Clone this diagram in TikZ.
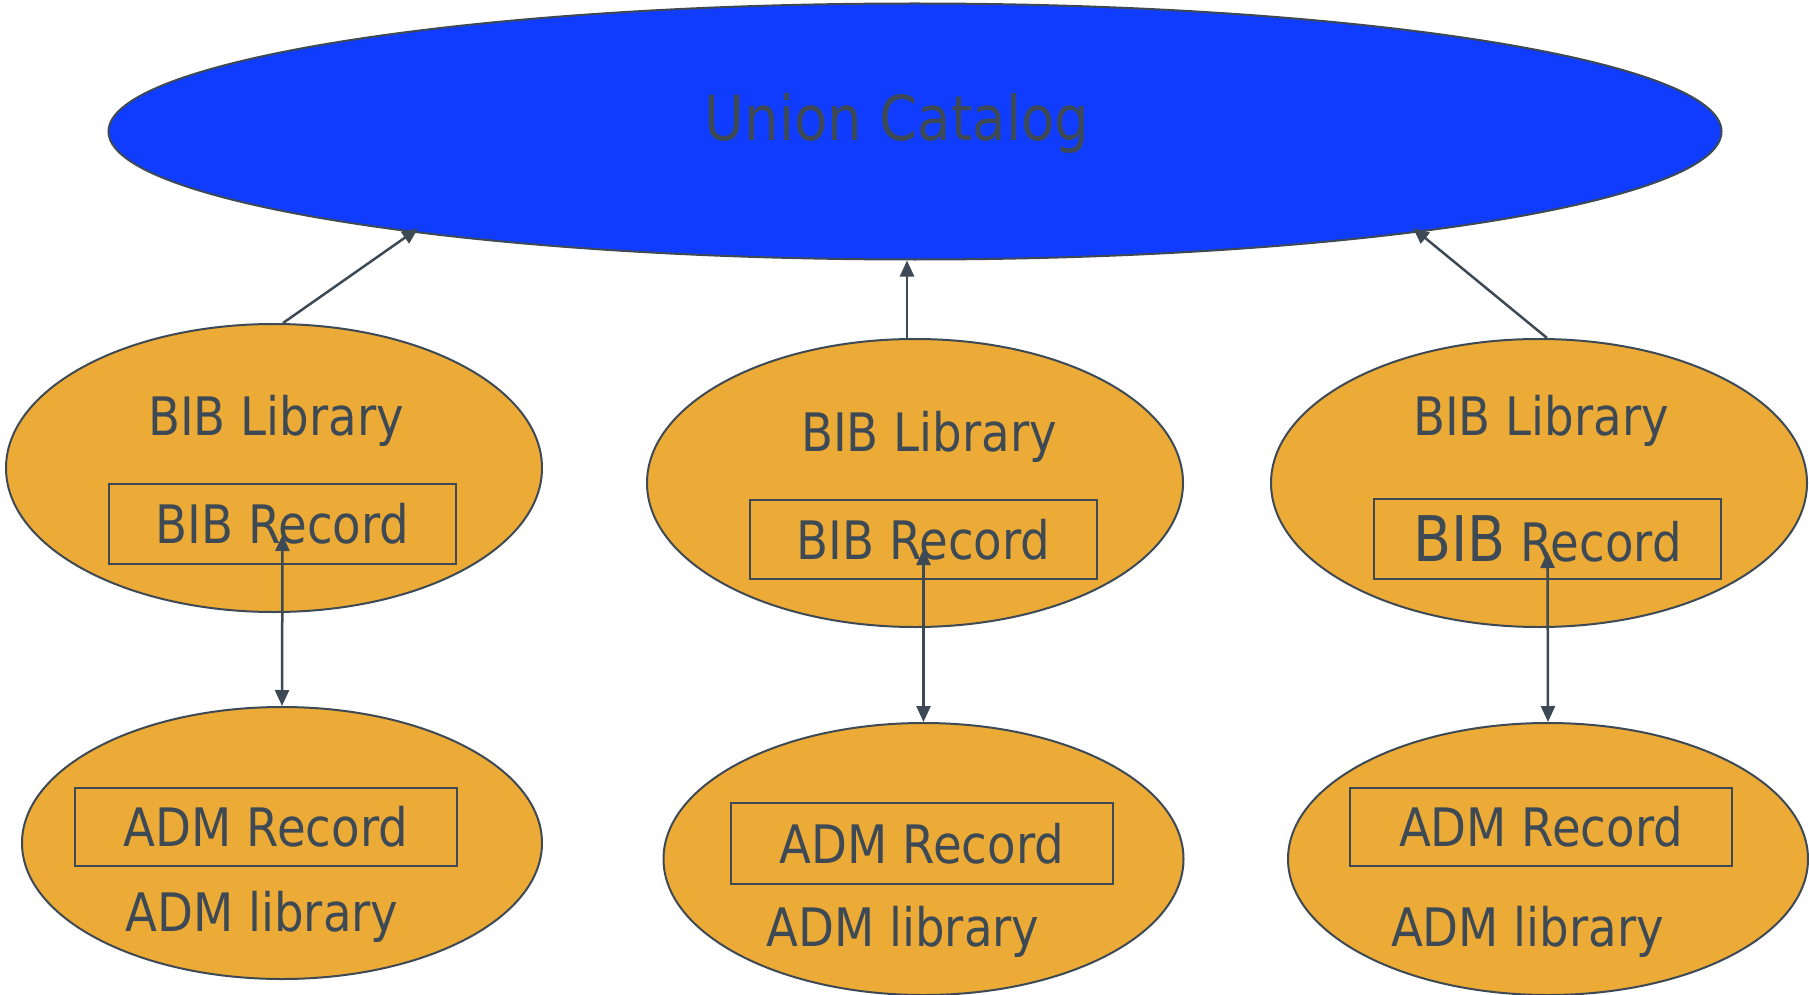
\documentclass[tikz,border=0pt]{standalone}
\usepackage{fontspec}
\setmainfont{DejaVu Sans}[FakeStretch=0.88]
\usetikzlibrary{shapes.geometric,arrows.meta,calc}
\definecolor{unionblue}{RGB}{16,60,255}
\definecolor{libfill}{RGB}{236,171,54}
\definecolor{ink}{RGB}{61,74,85}
\begin{document}
\begin{tikzpicture}[x=1pt,y=-1pt,
  unionell/.style={ellipse,draw=ink,line width=2pt,fill=unionblue,inner sep=0pt,minimum width=1613pt,minimum height=256pt},
  bibell/.style={ellipse,draw=ink,line width=2pt,fill=libfill,inner sep=0pt,minimum width=536pt,minimum height=288pt},
  admell/.style={ellipse,draw=ink,line width=2pt,fill=libfill,inner sep=0pt,minimum width=520pt,minimum height=272pt},
  recbox/.style={rectangle,draw=ink,line width=2pt,inner sep=0pt,text=ink,font=\fontsize{53}{60}\selectfont,minimum width=347pt,minimum height=80pt},
  admbox/.style={rectangle,draw=ink,line width=2pt,inner sep=0pt,text=ink,font=\fontsize{53}{60}\selectfont,minimum width=382pt,minimum height=78pt},
  txt/.style={inner sep=0pt,anchor=base,text=ink,font=\fontsize{53}{60}\selectfont},
  uparrow/.style={draw=ink,line width=2.5pt,-{Triangle[length=16pt,width=14pt]}},
  botharrow/.style={draw=ink,line width=2.5pt,{Triangle[length=16pt,width=14pt]}-{Triangle[length=16pt,width=14pt]}}
]
\useasboundingbox (0,0) rectangle (1809,995);

% union catalog
\node[unionell] (union) at (915,131.5) {};
\node[txt,font=\fontsize{62}{70}\selectfont] (uctext) at (897,141) {Union Catalog};

% BIB libraries
\node[bibell] (bibL) at (274,468) {};
\node[bibell] (bibM) at (915,483) {};
\node[bibell] (bibR) at (1539,483) {};
\node[txt] (libL) at (276,435) {BIB Library};
\node[txt] (libM) at (929,451) {BIB Library};
\node[txt] (libR) at (1541,435) {BIB Library};
\node[recbox] (recL) at (282.5,523.5) {BIB Record};
\node[recbox,minimum height=79.5pt] (recM) at (923.5,539.3) {BIB Record};
\node[recbox] (recR) at (1547.5,539) {{\fontsize{63}{70}\selectfont BIB} Record};

% ADM libraries
\node[admell] (admL) at (282,843) {};
\node[admell] (admM) at (923.5,859) {};
\node[admell] (admR) at (1548,859) {};
\node[admbox] (arecL) at (266,827) {ADM Record};
\node[admbox,minimum width=381.5pt,minimum height=81pt] (arecM) at (922,843.5) {ADM Record};
\node[admbox] (arecR) at (1541,827) {ADM Record};
\node[txt] (alibL) at (262,931) {ADM library};
\node[txt] (alibM) at (903,946) {ADM library};
\node[txt] (alibR) at (1527.5,946) {ADM library};

% connectors to union catalog
\draw[uparrow] ([xshift=9pt]bibL.north) -- ($(union.center)+(-497,97)$);
\draw[uparrow] ([xshift=-8pt]bibM.north) -- ([xshift=-8pt]union.south);
\draw[uparrow] ([xshift=8pt]bibR.north) -- ($(union.center)+(498,96.5)$);

% BIB <-> ADM
\draw[botharrow] ([yshift=-11.5pt]recL.center) -- (admL.north);
\draw[botharrow] ([yshift=-9.7pt]recM.center) -- (admM.north);
\draw[botharrow] ([yshift=-13pt]recR.center) -- (admR.north);
\end{tikzpicture}
\end{document}
